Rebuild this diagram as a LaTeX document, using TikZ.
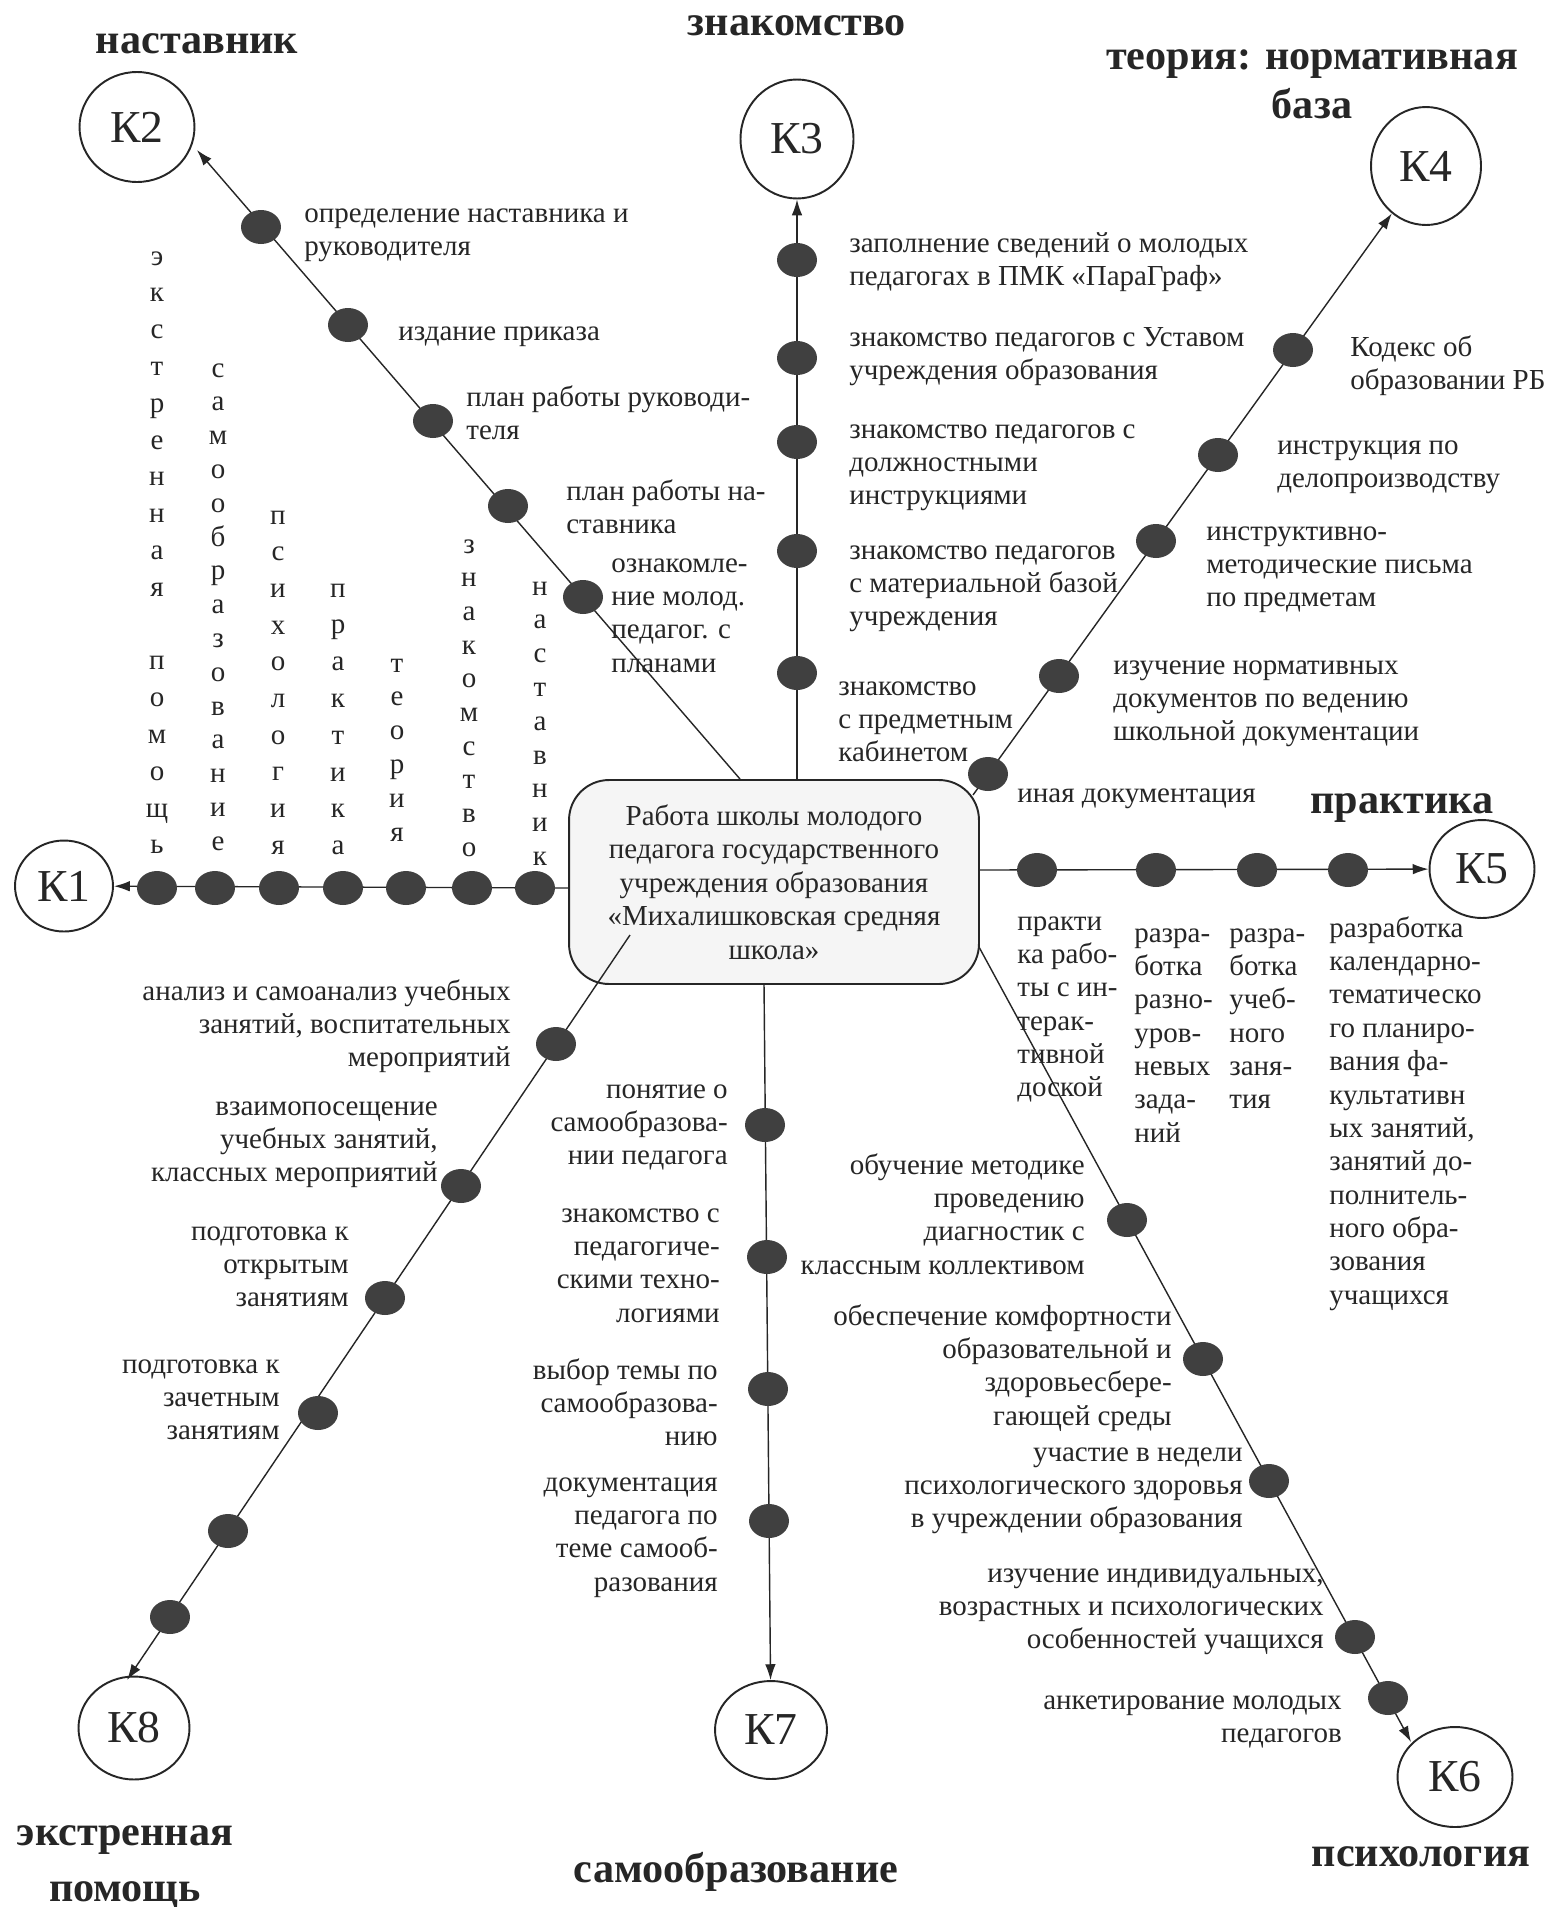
\documentclass[tikz,border=0pt]{standalone}
\usepackage{fontspec}
\setmainfont{Liberation Serif}
\usetikzlibrary{arrows.meta,shapes.geometric}

\newcommand\txtsize{\fontsize{16.5}{19}\selectfont}
\newcommand\ttlsize{\fontsize{24}{28}\selectfont\bfseries}

\tikzset{
  kcirc/.style={ellipse, draw=black!85, line width=1.1pt, inner sep=0pt, font=\fontsize{26}{30}\selectfont},
  bead/.style={ellipse, fill=black!75, minimum width=0.8cm, minimum height=0.68cm, inner sep=0pt},
  spoke/.style={draw=black!85, line width=0.8pt, ->},
  lbl/.style={anchor=north west, align=left, inner sep=0pt, font=\txtsize, yshift=-0.16cm, execute at begin node=\strut},
  rlbl/.style={lbl, anchor=north east, align=right},
  ttl/.style={font=\ttlsize, align=center, inner sep=0pt, yshift=-0.08cm},
  vlet/.style={anchor=base, inner sep=0pt, font=\txtsize},
  mainbox/.style={draw=black!85, line width=1.1pt, fill=black!4, rounded corners=0.8cm,
    minimum width=8.2cm, minimum height=4.08cm, align=center, font=\txtsize}
}

\begin{document}
\begin{tikzpicture}[x=0.02cm, y=-0.02cm, >={Latex[length=9pt,width=6pt]}, color=black!85]
\useasboundingbox[fill=white] (0,0) rectangle (1550,1907);

\node[mainbox] (box) at (774,882) {Работа школы молодого\\педагога государственного\\учреждения образования\\«Михалишковская средняя\\школа»};

\node[kcirc, minimum width=1.96cm, minimum height=1.82cm] (K1) at (64,886) {К1};
\node[kcirc, minimum width=2.3cm, minimum height=2.2cm] (K2) at (137,127) {К2};
\node[kcirc, minimum width=2.26cm, minimum height=2.38cm] (K3) at (797,139) {К3};
\node[kcirc, minimum width=2.2cm, minimum height=2.36cm] (K4) at (1426,166) {К4};
\node[kcirc, minimum width=2.1cm, minimum height=1.96cm] (K5) at (1482,869) {К5};
\node[kcirc, minimum width=2.3cm, minimum height=2cm] (K6) at (1455,1777) {К6};
\node[kcirc, minimum width=2.24cm, minimum height=1.96cm] (K7) at (771,1730) {К7};
\node[kcirc, minimum width=2.22cm, minimum height=2.06cm] (K8) at (134,1728) {К8};

\coordinate (s1) at (569,888);
\coordinate (s2) at (740,779);
\coordinate (e2) at (197,150);
\coordinate (s3) at (797,779);
\coordinate (s4) at (973,795);
\coordinate (s5) at (979,870);
\coordinate (s6) at (979,947);
\coordinate (e6) at (1411,1742);
\coordinate (s7) at (764,983);
\coordinate (s8) at (630,935);
\coordinate (e8) at (127,1680);

\draw[spoke] (s1) -- (K1);
\draw[spoke] (s2) -- (e2);
\draw[spoke] (s3) -- (K3);
\draw[spoke] (s4) -- (K4);
\draw[spoke] (s5) -- (K5);
\draw[spoke] (s6) -- (e6);
\draw[spoke] (s7) -- (K7);
\draw[spoke] (s8) -- (e8);

% K1
\foreach \x [count=\i] in {157,215,279,343,406,472,535}
  \node[bead] (b1-\i) at (\x,888) {};
\foreach \ch [count=\i] in {э,к,с,т,р,е,н,н,а,я,{},п,о,м,о,щ,ь}
  \node[vlet] (c1-\i) at (157,{265+36.8*(\i-1)}) {\ch};
\foreach \ch [count=\i] in {с,а,м,о,о,б,р,а,з,о,в,а,н,и,е}
  \node[vlet] (c2-\i) at (218,{377+33.8*(\i-1)}) {\ch};
\foreach \ch [count=\i] in {п,с,и,х,о,л,о,г,и,я}
  \node[vlet] (c3-\i) at (278,{524+36.7*(\i-1)}) {\ch};
\foreach \ch [count=\i] in {п,р,а,к,т,и,к,а}
  \node[vlet] (c4-\i) at (338,{597+36.8*(\i-1)}) {\ch};
\foreach \ch [count=\i] in {т,е,о,р,и,я}
  \node[vlet] (c5-\i) at (397,{672+33.8*(\i-1)}) {\ch};
\foreach \ch [count=\i] in {з,н,а,к,о,м,с,т,в,о}
  \node[vlet] (c6-\i) at (469,{553+33.7*(\i-1)}) {\ch};
\foreach \ch [count=\i] in {н,а,с,т,а,в,н,и,к}
  \node[vlet] (c7-\i) at (540,{595+33.8*(\i-1)}) {\ch};

% K2
\foreach \x/\y [count=\i] in {261/227,348/325,433/421,508/506,583/597}
  \node[bead] (b2-\i) at (\x,\y) {};
\node[lbl] (l2-1) at (304,200) {определение наставника и\\руководителя};
\node[lbl] (l2-2) at (398,309) {издание приказа};
\node[lbl] (l2-3) at (466,377) {план работы руководи-\\теля};
\node[lbl] (l2-4) at (566,471) {план работы на-\\ставника};
\node[lbl] (l2-5) at (611,550) {ознакомле-\\ние молод.\\педагог. с\\планами};

% K3
\foreach \y [count=\i] in {260,358,442,551,673}
  \node[bead] (b3-\i) at (797,\y) {};
\node[lbl] (l3-1) at (849,224) {заполнение сведений о молодых\\педагогах в ПМК «ПараГраф»};
\node[lbl] (l3-2) at (849,319) {знакомство педагогов с Уставом\\учреждения образования};
\node[lbl] (l3-3) at (849,416) {знакомство педагогов с\\должностными\\инструкциями};
\node[lbl] (l3-4) at (849,537) {знакомство педагогов\\с материальной базой\\учреждения};
\node[lbl] (l3-5) at (838,673) {знакомство\\с предметным\\кабинетом};

% K4
\foreach \x/\y [count=\i] in {988/774,1059/676,1156/541,1218/455,1293/350}
  \node[bead] (b4-\i) at (\x,\y) {};
\node[lbl] (l4-1) at (1350,327) {Кодекс об\\образовании РБ};
\node[lbl] (l4-2) at (1277,432) {инструкция по\\делопроизводству};
\node[lbl] (l4-3) at (1206,518) {инструктивно-\\методические письма\\по предметам};
\node[lbl] (l4-4) at (1113,652) {изучение нормативных\\документов по ведению\\школьной документации};
\node[lbl] (l4-5) at (1017,771) {иная документация};

% K5
\foreach \x [count=\i] in {1037,1156,1257,1348}
  \node[bead] (b5-\i) at (\x,870) {};
\node[lbl] (l5-1) at (1017,908) {практи\\ка рабо-\\ты с ин-\\терак-\\тивной\\доской};
\node[lbl] (l5-2) at (1134,920) {разра-\\ботка\\разно-\\уров-\\невых\\зада-\\ний};
\node[lbl] (l5-3) at (1229,920) {разра-\\ботка\\учеб-\\ного\\заня-\\тия};
\node[lbl] (l5-4) at (1329,908) {разработка\\календарно-\\тематическо\\го планиро-\\вания фа-\\культативн\\ых занятий,\\занятий до-\\полнитель-\\ного обра-\\зования\\учащихся};

% K6
\foreach \x/\y [count=\i] in {1127/1220,1203/1359,1269/1481,1355/1637,1388/1698}
  \node[bead] (b6-\i) at (\x,\y) {};
\node[rlbl] (l6-1) at (1085,1145) {обучение методике\\проведению\\диагностик с\\классным коллективом};
\node[rlbl] (l6-2) at (1172,1296) {обеспечение комфортности\\образовательной и\\здоровьесбере-\\гающей среды};
\node[rlbl] (l6-3) at (1243,1439) {участие в недели\\психологического здоровья\\в учреждении образования};
\node[rlbl] (l6-4) at (1324,1560) {изучение индивидуальных,\\возрастных и психологических\\особенностей учащихся};
\node[rlbl] (l6-5) at (1342,1687) {анкетирование молодых\\педагогов};

% K7
\foreach \x/\y [count=\i] in {765/1125,767/1257,768/1389,769/1521}
  \node[bead] (b7-\i) at (\x,\y) {};
\node[rlbl] (l7-1) at (728,1076) {понятие о\\самообразова-\\нии педагога};
\node[rlbl] (l7-2) at (720,1200) {знакомство с\\педагогиче-\\скими техно-\\логиями};
\node[rlbl] (l7-3) at (718,1350) {выбор темы по\\самообразова-\\нию};
\node[rlbl] (l7-4) at (718,1469) {документация\\педагога по\\теме самооб-\\разования};

% K8
\foreach \x/\y [count=\i] in {556/1044,461/1186,385/1298,318/1413,228/1531,170/1617}
  \node[bead] (b8-\i) at (\x,\y) {};
\node[rlbl] (l8-1) at (511,971) {анализ и самоанализ учебных\\занятий, воспитательных\\мероприятий};
\node[rlbl] (l8-2) at (438,1093) {взаимопосещение\\учебных занятий,\\классных мероприятий};
\node[rlbl] (l8-3) at (349,1218) {подготовка к\\открытым\\занятиям};
\node[rlbl] (l8-4) at (280,1351) {подготовка к\\зачетным\\занятиям};

\node[ttl] (t2) at (197,40) {наставник};
\node[ttl] (t3) at (797,22) {знакомство};
\node[ttl] (t4) at (1312,80) {теория: нормативная\\база};
\node[ttl] (t5) at (1402,804) {практика};
\node[ttl] (t6) at (1421,1853) {психология};
\node[ttl] (t7) at (736,1868) {самообразование};
\node[ttl, font=\fontsize{24}{32}\selectfont\bfseries] (t8) at (125,1863) {экстренная\\помощь};
\end{tikzpicture}
\end{document}
